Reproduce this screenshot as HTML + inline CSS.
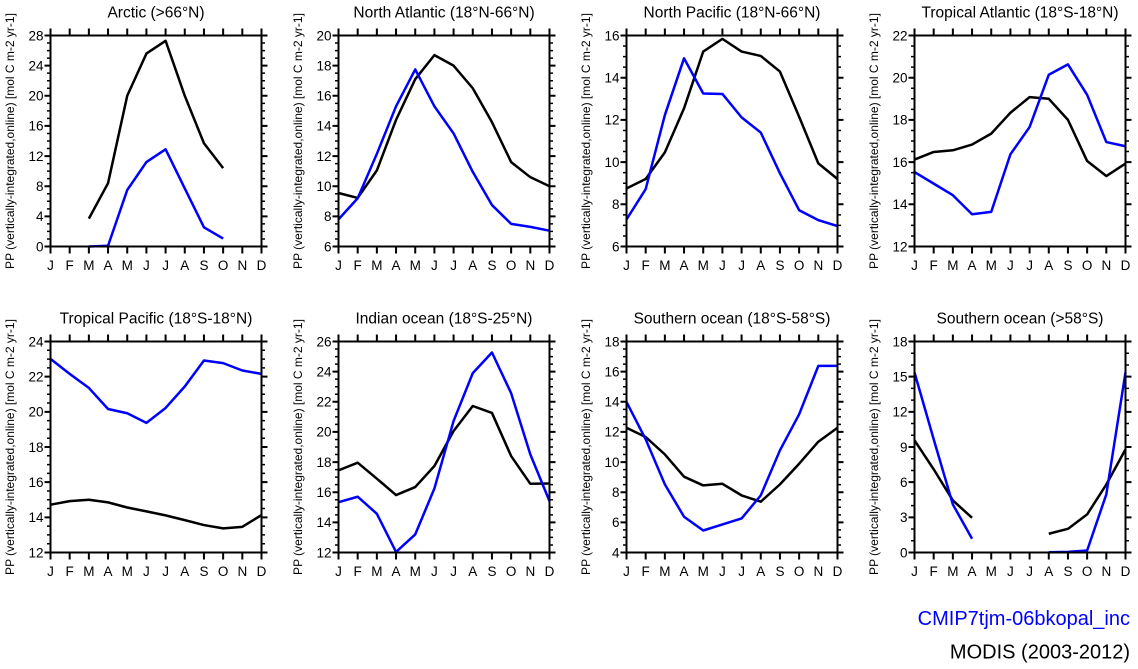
<!DOCTYPE html>
<html><head><meta charset="utf-8"><style>
html,body{margin:0;padding:0;background:#fff;}
svg{display:block;}
text{font-family:"Liberation Sans",Arial,sans-serif;fill:#000;}
.yl{font-size:13.5px;text-anchor:end;}
.xl{font-size:13.5px;text-anchor:middle;}
.t{font-size:15.5px;text-anchor:middle;}
.ya{font-size:12px;text-anchor:middle;}
.fr{fill:none;stroke:#000;stroke-width:2;}
.tk{fill:none;stroke:#000;}
.bk{fill:none;stroke:#000;stroke-width:2.5;stroke-linejoin:round;vector-effect:non-scaling-stroke;}
.bl{fill:none;stroke:#0000ff;stroke-width:2.5;stroke-linejoin:round;vector-effect:non-scaling-stroke;}
</style></head><body>
<svg width="1138" height="669" viewBox="0 0 1138 669" xmlns="http://www.w3.org/2000/svg">
<rect width="1138" height="669" fill="#fff"/>

<!-- Panel 1: Arctic -->
<g transform="translate(50.5,35.5)">
<text class="t" x="105.5" y="-18">Arctic (&gt;66°N)</text>
<text class="ya" transform="translate(-41,105.5) rotate(-90)" y="4.3">PP (vertically-integrated,online) [mol C m-2 yr-1]</text>
<g transform="scale(19.1818,-7.5357) translate(0,-28)">
<polyline class="bk" points="2,3.7 3,8.4 4,20 5,25.6 6,27.3 7,20 8,13.7 9,10.4"/>
<polyline class="bl" points="2,0 3,0.1 4,7.5 5,11.2 6,12.9 7,7.7 8,2.55 9,1.05"/>
</g>
<path class="tk" d="M-3,-1V212M214,-1V212" stroke-width="6" stroke-dasharray="2 28.143"/>
<path class="tk" d="M-1.75,-0.75V211.75M212.75,-0.75V211.75" stroke-width="3.5" stroke-dasharray="1.5 6.0357"/>
<path class="tk" d="M-1,-3.5H212M-1,214.5H212" stroke-width="7" stroke-dasharray="2 17.1818"/>
<rect class="fr" x="0" y="0" width="211" height="211"/>
<text class="yl" x="-7" y="4.8">28</text><text class="yl" x="-7" y="34.94">24</text><text class="yl" x="-7" y="65.09">20</text><text class="yl" x="-7" y="95.23">16</text><text class="yl" x="-7" y="125.37">12</text><text class="yl" x="-7" y="155.51">8</text><text class="yl" x="-7" y="185.66">4</text><text class="yl" x="-7" y="215.8">0</text>
<text class="xl" x="0" y="234.5">J</text><text class="xl" x="19.18" y="234.5">F</text><text class="xl" x="38.36" y="234.5">M</text><text class="xl" x="57.55" y="234.5">A</text><text class="xl" x="76.73" y="234.5">M</text><text class="xl" x="95.91" y="234.5">J</text><text class="xl" x="115.09" y="234.5">J</text><text class="xl" x="134.27" y="234.5">A</text><text class="xl" x="153.45" y="234.5">S</text><text class="xl" x="172.64" y="234.5">O</text><text class="xl" x="191.82" y="234.5">N</text><text class="xl" x="211" y="234.5">D</text>
</g>

<!-- Panel 2: North Atlantic -->
<g transform="translate(338.5,35.5)">
<text class="t" x="105.5" y="-18">North Atlantic (18°N-66°N)</text>
<text class="ya" transform="translate(-41,105.5) rotate(-90)" y="4.3">PP (vertically-integrated,online) [mol C m-2 yr-1]</text>
<g transform="scale(19.1818,-15.0714) translate(0,-20)">
<polyline class="bk" points="0,9.55 1,9.22 2,11.05 3,14.4 4,17.1 5,18.7 6,18.0 7,16.5 8,14.25 9,11.6 10,10.6 11,10.0"/>
<polyline class="bl" points="0,7.8 1,9.2 2,12.15 3,15.3 4,17.75 5,15.3 6,13.5 7,10.95 8,8.75 9,7.5 10,7.3 11,7.05"/>
</g>
<path class="tk" d="M-3,-1V212M214,-1V212" stroke-width="6" stroke-dasharray="2 28.143"/>
<path class="tk" d="M-1.75,-0.75V211.75M212.75,-0.75V211.75" stroke-width="3.5" stroke-dasharray="1.5 6.0357"/>
<path class="tk" d="M-1,-3.5H212M-1,214.5H212" stroke-width="7" stroke-dasharray="2 17.1818"/>
<rect class="fr" x="0" y="0" width="211" height="211"/>
<text class="yl" x="-7" y="4.8">20</text><text class="yl" x="-7" y="34.94">18</text><text class="yl" x="-7" y="65.09">16</text><text class="yl" x="-7" y="95.23">14</text><text class="yl" x="-7" y="125.37">12</text><text class="yl" x="-7" y="155.51">10</text><text class="yl" x="-7" y="185.66">8</text><text class="yl" x="-7" y="215.8">6</text>
<text class="xl" x="0" y="234.5">J</text><text class="xl" x="19.18" y="234.5">F</text><text class="xl" x="38.36" y="234.5">M</text><text class="xl" x="57.55" y="234.5">A</text><text class="xl" x="76.73" y="234.5">M</text><text class="xl" x="95.91" y="234.5">J</text><text class="xl" x="115.09" y="234.5">J</text><text class="xl" x="134.27" y="234.5">A</text><text class="xl" x="153.45" y="234.5">S</text><text class="xl" x="172.64" y="234.5">O</text><text class="xl" x="191.82" y="234.5">N</text><text class="xl" x="211" y="234.5">D</text>
</g>

<!-- Panel 3: North Pacific -->
<g transform="translate(626.5,35.5)">
<text class="t" x="105.5" y="-18">North Pacific (18°N-66°N)</text>
<text class="ya" transform="translate(-41,105.5) rotate(-90)" y="4.3">PP (vertically-integrated,online) [mol C m-2 yr-1]</text>
<g transform="scale(19.1818,-21.1) translate(0,-16)">
<polyline class="bk" points="0,8.75 1,9.2 2,10.46 3,12.55 4,15.24 5,15.84 6,15.24 7,15.03 8,14.29 9,12.15 10,9.94 11,9.2"/>
<polyline class="bl" points="0,7.28 1,8.72 2,12.23 3,14.92 4,13.25 5,13.23 6,12.12 7,11.4 8,9.47 9,7.72 10,7.25 11,6.97"/>
</g>
<path class="tk" d="M-3,-1V212M214,-1V212" stroke-width="6" stroke-dasharray="2 40.2"/>
<path class="tk" d="M-1.75,-0.75V211.75M212.75,-0.75V211.75" stroke-width="3.5" stroke-dasharray="1.5 9.05"/>
<path class="tk" d="M-1,-3.5H212M-1,214.5H212" stroke-width="7" stroke-dasharray="2 17.1818"/>
<rect class="fr" x="0" y="0" width="211" height="211"/>
<text class="yl" x="-7" y="4.8">16</text><text class="yl" x="-7" y="47">14</text><text class="yl" x="-7" y="89.2">12</text><text class="yl" x="-7" y="131.4">10</text><text class="yl" x="-7" y="173.6">8</text><text class="yl" x="-7" y="215.8">6</text>
<text class="xl" x="0" y="234.5">J</text><text class="xl" x="19.18" y="234.5">F</text><text class="xl" x="38.36" y="234.5">M</text><text class="xl" x="57.55" y="234.5">A</text><text class="xl" x="76.73" y="234.5">M</text><text class="xl" x="95.91" y="234.5">J</text><text class="xl" x="115.09" y="234.5">J</text><text class="xl" x="134.27" y="234.5">A</text><text class="xl" x="153.45" y="234.5">S</text><text class="xl" x="172.64" y="234.5">O</text><text class="xl" x="191.82" y="234.5">N</text><text class="xl" x="211" y="234.5">D</text>
</g>

<!-- Panel 4: Tropical Atlantic -->
<g transform="translate(914.5,35.5)">
<text class="t" x="105.5" y="-18">Tropical Atlantic (18°S-18°N)</text>
<text class="ya" transform="translate(-41,105.5) rotate(-90)" y="4.3">PP (vertically-integrated,online) [mol C m-2 yr-1]</text>
<g transform="scale(19.1818,-21.1) translate(0,-22)">
<polyline class="bk" points="0,16.12 1,16.48 2,16.56 3,16.83 4,17.35 5,18.34 6,19.08 7,19.0 8,18.0 9,16.05 10,15.34 11,15.93"/>
<polyline class="bl" points="0,15.53 1,14.98 2,14.43 3,13.53 4,13.64 5,16.37 6,17.66 7,20.14 8,20.63 9,19.19 10,16.95 11,16.75"/>
</g>
<path class="tk" d="M-3,-1V212M214,-1V212" stroke-width="6" stroke-dasharray="2 40.2"/>
<path class="tk" d="M-1.75,-0.75V211.75M212.75,-0.75V211.75" stroke-width="3.5" stroke-dasharray="1.5 9.05"/>
<path class="tk" d="M-1,-3.5H212M-1,214.5H212" stroke-width="7" stroke-dasharray="2 17.1818"/>
<rect class="fr" x="0" y="0" width="211" height="211"/>
<text class="yl" x="-7" y="4.8">22</text><text class="yl" x="-7" y="47">20</text><text class="yl" x="-7" y="89.2">18</text><text class="yl" x="-7" y="131.4">16</text><text class="yl" x="-7" y="173.6">14</text><text class="yl" x="-7" y="215.8">12</text>
<text class="xl" x="0" y="234.5">J</text><text class="xl" x="19.18" y="234.5">F</text><text class="xl" x="38.36" y="234.5">M</text><text class="xl" x="57.55" y="234.5">A</text><text class="xl" x="76.73" y="234.5">M</text><text class="xl" x="95.91" y="234.5">J</text><text class="xl" x="115.09" y="234.5">J</text><text class="xl" x="134.27" y="234.5">A</text><text class="xl" x="153.45" y="234.5">S</text><text class="xl" x="172.64" y="234.5">O</text><text class="xl" x="191.82" y="234.5">N</text><text class="xl" x="211" y="234.5">D</text>
</g>

<!-- Panel 5: Tropical Pacific -->
<g transform="translate(50.5,341.5)">
<text class="t" x="105.5" y="-18">Tropical Pacific (18°S-18°N)</text>
<text class="ya" transform="translate(-41,105.5) rotate(-90)" y="4.3">PP (vertically-integrated,online) [mol C m-2 yr-1]</text>
<g transform="scale(19.1818,-17.5833) translate(0,-24)">
<polyline class="bk" points="0,14.72 1,14.92 2,15.0 3,14.85 4,14.56 5,14.34 6,14.11 7,13.84 8,13.56 9,13.37 10,13.46 11,14.13"/>
<polyline class="bl" points="0,23.01 1,22.16 2,21.36 3,20.16 4,19.92 5,19.37 6,20.22 7,21.44 8,22.92 9,22.77 10,22.35 11,22.16"/>
</g>
<path class="tk" d="M-3,-1V212M214,-1V212" stroke-width="6" stroke-dasharray="2 33.167"/>
<path class="tk" d="M-1.75,-0.75V211.75M212.75,-0.75V211.75" stroke-width="3.5" stroke-dasharray="1.5 7.2917"/>
<path class="tk" d="M-1,-3.5H212M-1,214.5H212" stroke-width="7" stroke-dasharray="2 17.1818"/>
<rect class="fr" x="0" y="0" width="211" height="211"/>
<text class="yl" x="-7" y="4.8">24</text><text class="yl" x="-7" y="39.97">22</text><text class="yl" x="-7" y="75.13">20</text><text class="yl" x="-7" y="110.3">18</text><text class="yl" x="-7" y="145.47">16</text><text class="yl" x="-7" y="180.63">14</text><text class="yl" x="-7" y="215.8">12</text>
<text class="xl" x="0" y="234.5">J</text><text class="xl" x="19.18" y="234.5">F</text><text class="xl" x="38.36" y="234.5">M</text><text class="xl" x="57.55" y="234.5">A</text><text class="xl" x="76.73" y="234.5">M</text><text class="xl" x="95.91" y="234.5">J</text><text class="xl" x="115.09" y="234.5">J</text><text class="xl" x="134.27" y="234.5">A</text><text class="xl" x="153.45" y="234.5">S</text><text class="xl" x="172.64" y="234.5">O</text><text class="xl" x="191.82" y="234.5">N</text><text class="xl" x="211" y="234.5">D</text>
</g>

<!-- Panel 6: Indian ocean -->
<g transform="translate(338.5,341.5)">
<text class="t" x="105.5" y="-18">Indian ocean (18°S-25°N)</text>
<text class="ya" transform="translate(-41,105.5) rotate(-90)" y="4.3">PP (vertically-integrated,online) [mol C m-2 yr-1]</text>
<g transform="scale(19.1818,-15.0714) translate(0,-26)">
<polyline class="bk" points="0,17.45 1,17.96 2,16.9 3,15.81 4,16.34 5,17.74 6,20.06 7,21.72 8,21.26 9,18.4 10,16.56 11,16.58"/>
<polyline class="bl" points="0,15.34 1,15.7 2,14.57 3,12.04 4,13.2 5,16.25 6,20.73 7,23.9 8,25.27 9,22.57 10,18.51 11,15.41"/>
</g>
<path class="tk" d="M-3,-1V212M214,-1V212" stroke-width="6" stroke-dasharray="2 28.143"/>
<path class="tk" d="M-1.75,-0.75V211.75M212.75,-0.75V211.75" stroke-width="3.5" stroke-dasharray="1.5 6.0357"/>
<path class="tk" d="M-1,-3.5H212M-1,214.5H212" stroke-width="7" stroke-dasharray="2 17.1818"/>
<rect class="fr" x="0" y="0" width="211" height="211"/>
<text class="yl" x="-7" y="4.8">26</text><text class="yl" x="-7" y="34.94">24</text><text class="yl" x="-7" y="65.09">22</text><text class="yl" x="-7" y="95.23">20</text><text class="yl" x="-7" y="125.37">18</text><text class="yl" x="-7" y="155.51">16</text><text class="yl" x="-7" y="185.66">14</text><text class="yl" x="-7" y="215.8">12</text>
<text class="xl" x="0" y="234.5">J</text><text class="xl" x="19.18" y="234.5">F</text><text class="xl" x="38.36" y="234.5">M</text><text class="xl" x="57.55" y="234.5">A</text><text class="xl" x="76.73" y="234.5">M</text><text class="xl" x="95.91" y="234.5">J</text><text class="xl" x="115.09" y="234.5">J</text><text class="xl" x="134.27" y="234.5">A</text><text class="xl" x="153.45" y="234.5">S</text><text class="xl" x="172.64" y="234.5">O</text><text class="xl" x="191.82" y="234.5">N</text><text class="xl" x="211" y="234.5">D</text>
</g>

<!-- Panel 7: Southern ocean 18S-58S -->
<g transform="translate(626.5,341.5)">
<text class="t" x="105.5" y="-18">Southern ocean (18°S-58°S)</text>
<text class="ya" transform="translate(-41,105.5) rotate(-90)" y="4.3">PP (vertically-integrated,online) [mol C m-2 yr-1]</text>
<g transform="scale(19.1818,-15.0714) translate(0,-18)">
<polyline class="bk" points="0,12.28 1,11.66 2,10.51 3,9.03 4,8.45 5,8.56 6,7.79 7,7.37 8,8.52 9,9.89 10,11.35 11,12.28"/>
<polyline class="bl" points="0,13.99 1,11.51 2,8.52 3,6.37 4,5.46 5,5.86 6,6.26 7,7.79 8,10.78 9,13.17 10,16.38 11,16.38"/>
</g>
<path class="tk" d="M-3,-1V212M214,-1V212" stroke-width="6" stroke-dasharray="2 28.143"/>
<path class="tk" d="M-1.75,-0.75V211.75M212.75,-0.75V211.75" stroke-width="3.5" stroke-dasharray="1.5 6.0357"/>
<path class="tk" d="M-1,-3.5H212M-1,214.5H212" stroke-width="7" stroke-dasharray="2 17.1818"/>
<rect class="fr" x="0" y="0" width="211" height="211"/>
<text class="yl" x="-7" y="4.8">18</text><text class="yl" x="-7" y="34.94">16</text><text class="yl" x="-7" y="65.09">14</text><text class="yl" x="-7" y="95.23">12</text><text class="yl" x="-7" y="125.37">10</text><text class="yl" x="-7" y="155.51">8</text><text class="yl" x="-7" y="185.66">6</text><text class="yl" x="-7" y="215.8">4</text>
<text class="xl" x="0" y="234.5">J</text><text class="xl" x="19.18" y="234.5">F</text><text class="xl" x="38.36" y="234.5">M</text><text class="xl" x="57.55" y="234.5">A</text><text class="xl" x="76.73" y="234.5">M</text><text class="xl" x="95.91" y="234.5">J</text><text class="xl" x="115.09" y="234.5">J</text><text class="xl" x="134.27" y="234.5">A</text><text class="xl" x="153.45" y="234.5">S</text><text class="xl" x="172.64" y="234.5">O</text><text class="xl" x="191.82" y="234.5">N</text><text class="xl" x="211" y="234.5">D</text>
</g>

<!-- Panel 8: Southern ocean >58S -->
<g transform="translate(914.5,341.5)">
<text class="t" x="105.5" y="-18">Southern ocean (&gt;58°S)</text>
<text class="ya" transform="translate(-41,105.5) rotate(-90)" y="4.3">PP (vertically-integrated,online) [mol C m-2 yr-1]</text>
<g transform="scale(19.1818,-11.7222) translate(0,-18)">
<polyline class="bk" points="0,9.57 1,7.1 2,4.44 3,2.96"/>
<polyline class="bk" points="7,1.6 8,2.02 9,3.25 10,5.8 11,8.8"/>
<polyline class="bl" points="0,15.36 1,9.66 2,4.1 3,1.17"/>
<polyline class="bl" points="7,0.02 8,0.05 9,0.17 10,4.96 11,15.36"/>
</g>
<path class="tk" d="M-3,-1V212M214,-1V212" stroke-width="6" stroke-dasharray="2 33.167"/>
<path class="tk" d="M-1.75,-0.75V211.75M212.75,-0.75V211.75" stroke-width="3.5" stroke-dasharray="1.5 10.222"/>
<path class="tk" d="M-1,-3.5H212M-1,214.5H212" stroke-width="7" stroke-dasharray="2 17.1818"/>
<rect class="fr" x="0" y="0" width="211" height="211"/>
<text class="yl" x="-7" y="4.8">18</text><text class="yl" x="-7" y="39.97">15</text><text class="yl" x="-7" y="75.13">12</text><text class="yl" x="-7" y="110.3">9</text><text class="yl" x="-7" y="145.47">6</text><text class="yl" x="-7" y="180.63">3</text><text class="yl" x="-7" y="215.8">0</text>
<text class="xl" x="0" y="234.5">J</text><text class="xl" x="19.18" y="234.5">F</text><text class="xl" x="38.36" y="234.5">M</text><text class="xl" x="57.55" y="234.5">A</text><text class="xl" x="76.73" y="234.5">M</text><text class="xl" x="95.91" y="234.5">J</text><text class="xl" x="115.09" y="234.5">J</text><text class="xl" x="134.27" y="234.5">A</text><text class="xl" x="153.45" y="234.5">S</text><text class="xl" x="172.64" y="234.5">O</text><text class="xl" x="191.82" y="234.5">N</text><text class="xl" x="211" y="234.5">D</text>
</g>

<!-- Legend -->
<text x="1130" y="625" style="font-size:20px;text-anchor:end;fill:#0000ff;">CMIP7tjm-06bkopal_inc</text>
<text x="1130" y="658.5" style="font-size:20px;text-anchor:end;">MODIS (2003-2012)</text>
</svg>
</body></html>
